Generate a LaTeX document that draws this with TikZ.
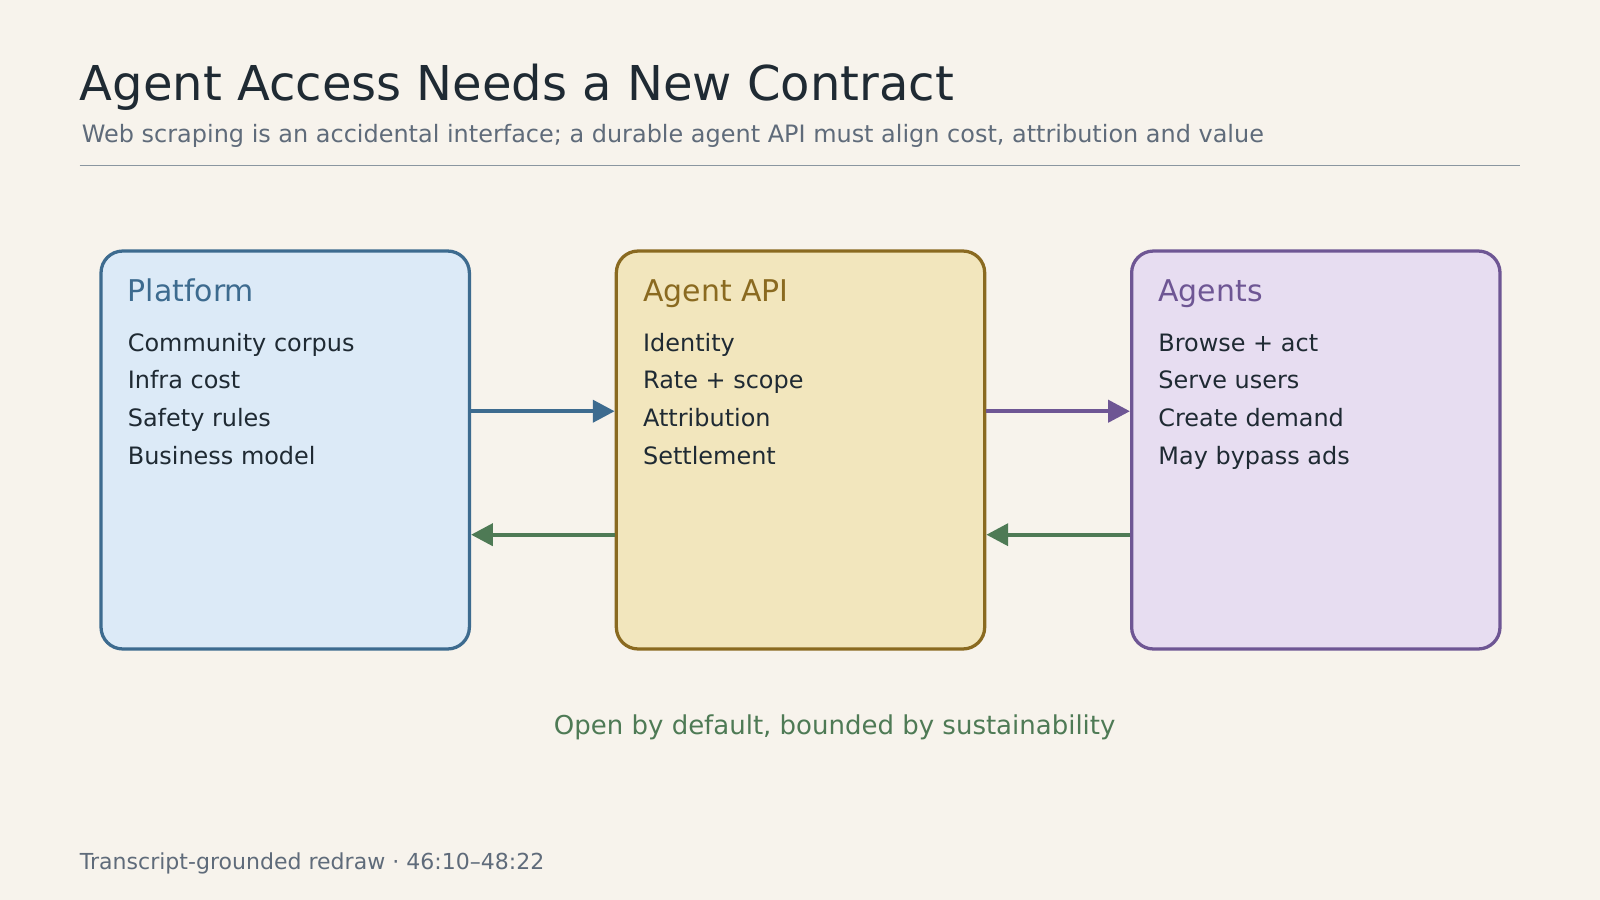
\documentclass[tikz,border=0pt]{standalone}
\usepackage{fontspec}
\setmainfont{DejaVu Sans}
\usetikzlibrary{arrows.meta}
\definecolor{bg}{HTML}{F7F3EC}
\definecolor{ttl}{HTML}{1F2A33}
\definecolor{sub}{HTML}{5F6B7A}
\definecolor{rule}{HTML}{8A96A0}
\definecolor{bl}{HTML}{3D6B8F}\definecolor{blf}{HTML}{DCEAF7}
\definecolor{gd}{HTML}{8A6A20}\definecolor{gdf}{HTML}{F2E6BD}
\definecolor{pu}{HTML}{6E5694}\definecolor{puf}{HTML}{E7DDF1}
\definecolor{gr}{HTML}{4E7A55}
\begin{document}
\begin{tikzpicture}[x=0.75pt,y=-0.75pt,
  box/.style={draw=#1,line width=2.4pt,rounded corners=16pt,minimum width=270.75pt,minimum height=292.5pt,inner sep=0pt},
  txt/.style={anchor=base west,inner sep=0pt,font=\fontsize{17.6}{20}\selectfont,text=ttl},
  hd/.style={anchor=base west,inner sep=0pt,font=\fontsize{22}{25}\selectfont,text=#1},
  arr/.style={draw=#1,line width=3.2pt,-{Triangle[length=16pt,width=16pt]}}]
\fill[bg] (0,0) rectangle (1568,882);
\useasboundingbox (0,0) rectangle (1568,882);
\node[anchor=base west,inner sep=0pt,font=\fontsize{35.3}{40}\selectfont,text=ttl] (t) at (78,98) {Agent Access Needs a New Contract};
\node[anchor=base west,inner sep=0pt,font=\fontsize{17.6}{20}\selectfont,text=sub] (s) at (80,140) {Web scraping is an accidental interface; a durable agent API must align cost, attribution and value};
\coordinate (r1) at (78,162); \coordinate (r2) at (1490,162);
\draw[rule,line width=1.1pt] (r1) -- (r2);
\node[box=bl,fill=blf] (p) at (279.5,441) {};
\node[box=gd,fill=gdf] (a) at (784.5,441) {};
\node[box=pu,fill=puf] (g) at (1289.5,441) {};
\node[hd=bl] at (125,295) {Platform};
\node[hd=gd] at (630,295) {Agent API};
\node[hd=pu] at (1135,295) {Agents};
\foreach \x/\a/\b/\c/\d in {125/Community corpus/Infra cost/Safety rules/Business model,630/Identity/Rate + scope/Attribution/Settlement,1135/Browse + act/Serve users/Create demand/May bypass ads}{
 \node[txt] at (\x,344) {\a}; \node[txt] at (\x,381) {\b};
 \node[txt] at (\x,418) {\c}; \node[txt] at (\x,455) {\d};}
\draw[arr=bl] (p.east|-0,403) -- (a.west|-0,403);
\draw[arr=pu] (a.east|-0,403) -- (g.west|-0,403);
\draw[arr=gr] (a.west|-0,524) -- (p.east|-0,524);
\draw[arr=gr] (g.west|-0,524) -- (a.east|-0,524);
\node[anchor=base,inner sep=0pt,font=\fontsize{19.1}{22}\selectfont,text=gr] (c) at (818,720) {Open by default, bounded by sustainability};
\node[anchor=base west,inner sep=0pt,font=\fontsize{16.2}{18}\selectfont,text=sub] (f) at (78,852) {Transcript-grounded redraw · 46:10–48:22};
\end{tikzpicture}
\end{document}
